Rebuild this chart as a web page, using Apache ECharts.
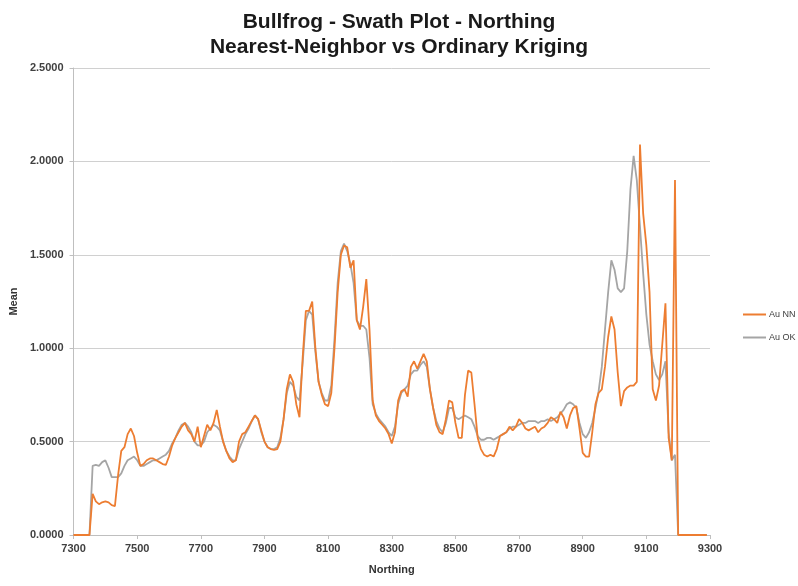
<!DOCTYPE html>
<html>
<head>
<meta charset="utf-8">
<script src="https://cdn.jsdelivr.net/npm/echarts@6/dist/echarts.min.js"></script>
<style>html,body{margin:0;padding:0;background:#fff}#c{width:798px;height:586px}</style>
</head>
<body>
<div id="c"></div>
<script>
// Northing from 7300 to 9290 every 10
const northing = [];
for (let v = 7300; v <= 9290; v += 10) northing.push(v);

const auNN = [
0,0,0,0,0,0, // 7300-7350
0.22,0.18,0.165,0.175,0.18,0.175,0.16,0.155,0.32,0.45, // 7360-7450
0.47,0.54,0.57,0.53,0.44,0.37,0.38,0.40,0.41,0.41, // 7460-7550
0.40,0.39,0.38,0.375,0.42,0.48,0.52,0.55,0.58,0.60, // 7560-7650
0.56,0.54,0.50,0.58,0.47,0.53,0.59,0.56,0.60,0.67, // 7660-7750
0.58,0.50,0.45,0.41,0.39,0.40,0.50,0.54,0.55,0.58, // 7760-7850
0.61,0.64,0.62,0.56,0.50,0.47,0.46,0.455,0.46,0.50, // 7860-7950
0.62,0.78,0.86,0.82,0.70,0.63,0.95,1.20,1.20,1.25, // 7960-8050
1.00,0.82,0.75,0.70,0.69,0.76,1.00,1.30,1.50,1.55, // 8060-8150
1.54,1.43,1.47,1.15,1.10,1.22,1.37,1.10,0.72,0.64, // 8160-8250
0.61,0.59,0.57,0.54,0.49,0.55,0.72,0.77,0.78,0.74, // 8260-8350
0.90,0.93,0.89,0.93,0.97,0.93,0.78,0.68,0.59,0.55, // 8360-8450
0.54,0.62,0.72,0.71,0.60,0.52,0.52,0.75,0.88,0.87, // 8460-8550
0.70,0.52,0.46,0.43,0.42,0.43,0.42,0.46,0.53,0.54, // 8560-8650
0.55,0.58,0.56,0.58,0.62,0.60,0.57,0.56,0.57,0.58, // 8660-8750
0.55,0.57,0.58,0.60,0.63,0.62,0.60,0.66,0.63,0.57, // 8760-8850
0.64,0.68,0.69,0.57,0.44,0.42,0.42,0.55,0.70,0.76, // 8860-8950
0.78,0.90,1.06,1.17,1.10,0.87,0.69,0.77,0.79,0.80, // 8960-9050
0.80,0.82,2.09,1.72,1.55,1.30,0.78,0.72,0.80,1.02, // 9060-9150
1.24,0.52,0.40,1.90,0,0,0,0,0,0, // 9160-9250
0,0,0,0 // 9260-9290
];

const auOK = [
0,0,0,0,0,0, // 7300-7350
0.37,0.375,0.37,0.39,0.40,0.36,0.31,0.31,0.31,0.33, // 7360-7450
0.37,0.40,0.41,0.42,0.40,0.37,0.37,0.38,0.39,0.40, // 7460-7550
0.40,0.41,0.42,0.43,0.45,0.49,0.52,0.56,0.59,0.60, // 7560-7650
0.58,0.55,0.50,0.48,0.48,0.50,0.55,0.57,0.59,0.58, // 7660-7750
0.56,0.50,0.45,0.42,0.40,0.40,0.46,0.50,0.54,0.57, // 7760-7850
0.61,0.64,0.62,0.55,0.50,0.47,0.46,0.46,0.47,0.52, // 7860-7950
0.62,0.76,0.82,0.80,0.74,0.72,0.92,1.15,1.20,1.18, // 7960-8050
0.98,0.82,0.76,0.72,0.72,0.80,1.05,1.35,1.52,1.56, // 8060-8150
1.52,1.45,1.35,1.15,1.12,1.12,1.10,0.95,0.70,0.65, // 8160-8250
0.62,0.60,0.58,0.55,0.53,0.58,0.70,0.76,0.78,0.80, // 8260-8350
0.86,0.88,0.88,0.91,0.93,0.90,0.78,0.68,0.61,0.57, // 8360-8450
0.55,0.60,0.68,0.68,0.63,0.62,0.63,0.64,0.63,0.62, // 8460-8550
0.58,0.53,0.51,0.51,0.52,0.52,0.51,0.52,0.53,0.54, // 8560-8650
0.55,0.57,0.58,0.58,0.59,0.60,0.60,0.61,0.61,0.61, // 8660-8750
0.60,0.61,0.61,0.62,0.61,0.62,0.63,0.65,0.67,0.70, // 8760-8850
0.71,0.70,0.68,0.60,0.54,0.52,0.55,0.60,0.68,0.77, // 8860-8950
0.90,1.10,1.30,1.47,1.42,1.32,1.30,1.32,1.52,1.85, // 8960-9050
2.03,1.90,1.65,1.40,1.18,1.02,0.93,0.86,0.83,0.86, // 9060-9150
0.93,0.55,0.40,0.43,0,0,0,0,0,0, // 9160-9250
0,0,0,0 // 9260-9290
];

const yTicks = [0, 0.5, 1.0, 1.5, 2.0, 2.5];
const xTicks = [7300, 7500, 7700, 7900, 8100, 8300, 8500, 8700, 8900, 9100, 9300];

const pairs = arr => northing.map((n, i) => [n, arr[i]]);

const chart = echarts.init(document.getElementById('c'), null, {renderer: 'canvas'});
chart.setOption({
  animation: false,
  backgroundColor: '#ffffff',
  title: {
    text: 'Bullfrog - Swath Plot - Northing\nNearest-Neighbor vs Ordinary Kriging',
    left: 'center',
    top: 5,
    textStyle: {fontFamily: 'Liberation Sans, Arial', fontWeight: 'bold', fontSize: 21, color: '#1a1a1a', lineHeight: 25}
  },
  legend: {
    orient: 'vertical',
    left: 738,
    top: 305,
    itemWidth: 23,
    itemHeight: 2,
    itemGap: 14,
    icon: 'rect',
    textStyle: {fontFamily: 'Liberation Sans, Arial', fontSize: 9, color: '#404040', padding: [0,0,0,-2]},
    data: ['Au NN', 'Au OK']
  },
  grid: {left: 73, right: 88, top: 68, bottom: 51, containLabel: false},
  xAxis: {
    type: 'value',
    min: 7300, max: 9300, interval: 200,
    name: 'Northing',
    nameLocation: 'middle',
    nameGap: 29,
    nameTextStyle: {fontFamily: 'Liberation Sans, Arial', fontWeight: 'bold', fontSize: 11, color: '#333'},
    axisLine: {lineStyle: {color: '#bfbfbf', width: 1}},
    axisTick: {show: true, length: 4, lineStyle: {color: '#bfbfbf'}},
    splitLine: {show: false},
    axisLabel: {fontFamily: 'Liberation Sans, Arial', fontWeight: 'bold', fontSize: 11, color: '#404040', margin: 8,
      formatter: v => xTicks.includes(v) ? String(v) : ''}
  },
  yAxis: {
    type: 'value',
    min: 0, max: 2.5, interval: 0.5,
    name: 'Mean',
    nameLocation: 'middle',
    nameGap: 52,
    nameTextStyle: {fontFamily: 'Liberation Sans, Arial', fontWeight: 'bold', fontSize: 11, color: '#333'},
    axisLine: {show: true, lineStyle: {color: '#bfbfbf', width: 1}},
    axisTick: {show: true, length: 4, lineStyle: {color: '#bfbfbf'}},
    splitLine: {show: true, lineStyle: {color: '#d0d0d0', width: 1}},
    axisLabel: {fontFamily: 'Liberation Sans, Arial', fontWeight: 'bold', fontSize: 11, color: '#404040', margin: 10,
      formatter: v => yTicks.some(t => Math.abs(t - v) < 1e-9) ? v.toFixed(4) : ''}
  },
  series: [
    {name: 'Au OK', type: 'line', data: pairs(auOK), showSymbol: false, symbol: 'none',
      lineStyle: {color: '#a5a5a5', width: 1.8}, itemStyle: {color: '#a5a5a5'}, z: 2},
    {name: 'Au NN', type: 'line', data: pairs(auNN), showSymbol: false, symbol: 'none',
      lineStyle: {color: '#ed7d31', width: 1.8}, itemStyle: {color: '#ed7d31'}, z: 3}
  ]
});
</script>
</body>
</html>
